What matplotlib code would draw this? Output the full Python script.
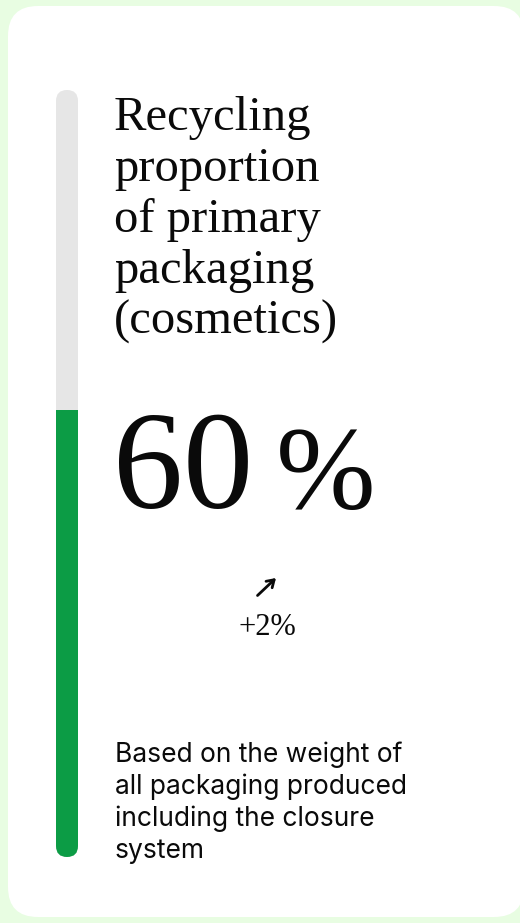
import matplotlib
matplotlib.use("Agg")
import matplotlib.pyplot as plt
from matplotlib.patches import FancyBboxPatch

# ---- data ----
title_lines = ["Recycling", "proportion", "of primary", "packaging", "(cosmetics)"]
value = 60
value_label = "60"
unit_label = "%"
change_label = "+2%"
note_lines = ["Based on the weight of", "all packaging produced",
              "including the closure", "system"]
track_max = 103  # visual full-scale of the progress track

# ---- style ----
BG = "#E8FDE2"
CARD = "#FFFFFF"
TRACK = "#E6E6E6"
GREEN = "#0C9C45"
INK = "#0A0A0A"
W, H = 520, 923

fig = plt.figure(figsize=(W / 100, H / 100), dpi=100)
fig.patch.set_facecolor(BG)
ax0 = fig.add_axes([0, 0, 1, 1])
ax0.set_xlim(0, W)
ax0.set_ylim(0, H)
ax0.axis("off")


def Y(y):
    return H - y


card = FancyBboxPatch((8, Y(917)), 516, 911, boxstyle="round,pad=0,rounding_size=30",
                      facecolor=CARD, edgecolor="none", transform=ax0.transData)
ax0.add_patch(card)

# ---- progress bar ----
bx0, bx1, by0, by1 = 56, 78, 90, 857
axb = fig.add_axes([bx0 / W, (H - by1) / H, (bx1 - bx0) / W, (by1 - by0) / H])
axb.set_xlim(-0.5, 0.5)
axb.set_ylim(0, track_max)
axb.axis("off")
clip = FancyBboxPatch((bx0, Y(by1)), bx1 - bx0, by1 - by0,
                      boxstyle="round,pad=0,rounding_size=11", transform=ax0.transData)
bars_bg = axb.bar([0], [track_max], width=1.0, color=TRACK, linewidth=0)
bars_fg = axb.bar([0], [value], width=1.0, color=GREEN, linewidth=0)
for b in list(bars_bg) + list(bars_fg):
    b.set_clip_path(clip)

# ---- title ----
serif = "Liberation Serif"
for i, line in enumerate(title_lines):
    ax0.text(114, Y(130 + 51 * i), line, fontsize=35, family=serif, color=INK,
             va="baseline", ha="left")

# ---- big number ----
ax0.text(113, Y(508), value_label, fontsize=101, family=serif, color=INK,
         va="baseline", ha="left")
ax0.text(276, Y(508), unit_label, fontsize=86, family=serif, color=INK,
         va="baseline", ha="left")

# ---- change ----
ax0.annotate("", xy=(276, Y(578)), xytext=(257.5, Y(595.5)),
             arrowprops=dict(arrowstyle="->,head_length=0.5,head_width=0.32",
                             lw=2, color=INK, shrinkA=0, shrinkB=0))
ax0.text(267, Y(635), change_label, fontsize=22, family=serif, color=INK,
         va="baseline", ha="center")

# ---- note ----
for i, line in enumerate(note_lines):
    ax0.text(115, Y(762 + 32 * i), line, fontsize=19, family="Inter", color=INK,
             va="baseline", ha="left")

fig.savefig("out.png", dpi=100, facecolor=BG)
